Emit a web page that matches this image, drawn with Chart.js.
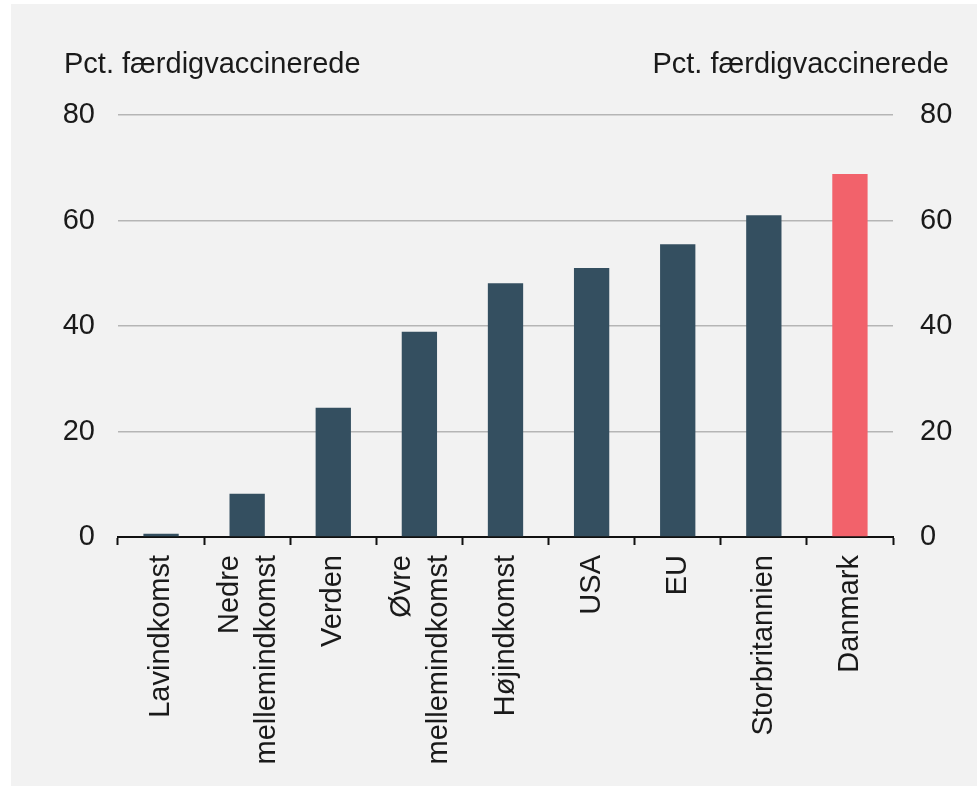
<!DOCTYPE html>
<html>
<head>
<meta charset="utf-8">
<script src="https://cdn.jsdelivr.net/npm/chart.js@4/dist/chart.umd.min.js"></script>
<style>
html,body{margin:0;padding:0;background:#ffffff;}
#wrap{position:relative;width:977px;height:791px;}
</style>
</head>
<body>
<div id="wrap"><canvas id="c" width="977" height="791"></canvas></div>
<script>
const categories = [
  "Lavindkomst",
  ["Nedre", "mellemindkomst"],
  "Verden",
  ["Øvre", "mellemindkomst"],
  "Højindkomst",
  "USA",
  "EU",
  "Storbritannien",
  "Danmark"
];
const vaccinated = [0.6, 8.2, 24.5, 38.9, 48.1, 51.0, 55.5, 61.0, 68.8];
const highlightIndex = 8;
const yTicks = [0, 20, 40, 60, 80];
const axisTitle = "Pct. færdigvaccinerede";

const FONT = "'Liberation Sans', Arial, sans-serif";
const FS = 29;
const darkColor = "#344f60";
const redColor = "#f2626b";

const bgPlugin = {
  id: "bg",
  beforeDraw(chart) {
    const ctx = chart.ctx;
    ctx.save();
    ctx.fillStyle = "#ffffff";
    ctx.fillRect(0, 0, chart.width, chart.height);
    ctx.fillStyle = "#f2f2f2";
    ctx.fillRect(11, 4, chart.width - 11, chart.height - 9);
    ctx.restore();
    // centre multi-line rotated category labels on their category
    const xs = chart.scales.x;
    const items = xs.getLabelItems();
    items.forEach(it => {
      if (Array.isArray(it.label) && !it._centred) {
        const lh = it.font.lineHeight;
        it.textOffset -= (it.label.length - 1) * lh / 2 - 1;
        it._centred = true;
      }
    });
  }
};

const titlesPlugin = {
  id: "titles",
  afterDraw(chart) {
    const ctx = chart.ctx;
    ctx.save();
    ctx.font = FS + "px " + FONT;
    ctx.fillStyle = "#1a1a1a";
    ctx.textBaseline = "middle";
    ctx.textAlign = "left";
    ctx.fillText(axisTitle, 64, 65);
    ctx.textAlign = "right";
    ctx.fillText(axisTitle, 949, 65);
    ctx.restore();
  }
};

new Chart(document.getElementById("c"), {
  type: "bar",
  data: {
    labels: categories,
    datasets: [{
      data: vaccinated,
      backgroundColor: vaccinated.map((v, i) => i === highlightIndex ? redColor : darkColor),
      barPercentage: 0.41,
      categoryPercentage: 1.0,
      yAxisID: "y"
    }]
  },
  options: {
    responsive: false,
    animation: false,
    devicePixelRatio: 1,
    layout: { padding: { top: 115, left: 0, right: 0, bottom: 0 } },
    plugins: {
      legend: { display: false },
      tooltip: { enabled: false },
      title: { display: false }
    },
    scales: {
      x: {
        offset: true,
        grid: {
          display: true,
          drawOnChartArea: false,
          drawTicks: true,
          tickLength: 8,
          tickWidth: 2,
          tickColor: "#111111",
          offset: true
        },
        border: { display: true, color: "#111111", width: 2 },
        ticks: {
          font: { family: FONT, size: FS, lineHeight: 1.28 },
          color: "#1a1a1a",
          maxRotation: 90,
          minRotation: 90,
          padding: 10,
          autoSkip: false
        },
        afterFit(scale) { scale.height = 254; }
      },
      y: {
        position: "left",
        min: 0,
        max: 80,
        afterBuildTicks(scale) { scale.ticks = yTicks.map(v => ({ value: v })); },
        grid: { color: "#b5b5b5", lineWidth: 1.5, drawTicks: false },
        border: { display: false },
        ticks: {
          font: { family: FONT, size: FS },
          color: "#1a1a1a",
          padding: 23
        },
        afterFit(scale) { scale.width = 118; }
      },
      y2: {
        position: "right",
        min: 0,
        max: 80,
        afterBuildTicks(scale) { scale.ticks = yTicks.map(v => ({ value: v })); },
        grid: { display: false, drawTicks: false },
        border: { display: false },
        ticks: {
          font: { family: FONT, size: FS },
          color: "#1a1a1a",
          padding: 27
        },
        afterFit(scale) { scale.width = 84; }
      }
    }
  },
  plugins: [bgPlugin, titlesPlugin]
});
</script>
</body>
</html>
